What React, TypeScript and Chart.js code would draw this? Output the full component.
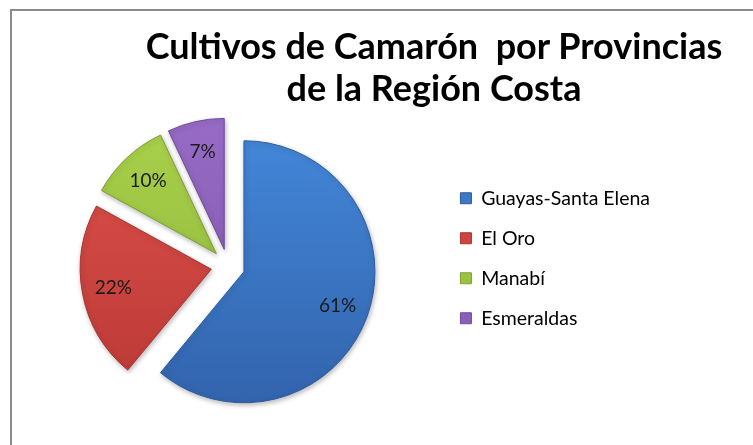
import React, { useEffect, useRef } from 'react';
import { Chart, registerables } from 'chart.js';

Chart.register(...registerables);

const categories = ['Guayas-Santa Elena', 'El Oro', 'Manabí', 'Esmeraldas'];
const values = [61, 22, 10, 7];
const percentLabels = ['61%', '22%', '10%', '7%'];
const titleLines = ['Cultivos de Camarón  por Provincias', 'de la Región Costa'];

const topColors = ['#4489db', '#e1524d', '#aad24b', '#976bc6'];
const bottomColors = ['#3262ab', '#b73733', '#8aae38', '#7a53a4'];
const midColors = ['#3b78c6', '#cf433f', '#9cc241', '#8a5fb6'];
const borderColors = ['#2e5b9e', '#a83330', '#7f9f33', '#6f4b96'];

const EXPLODE = 17;
const RADIUS = 131;
const FONT = 'Lato, "Open Sans", sans-serif';

const explodePlugin = {
  id: 'explodeSlices',
  afterDatasetUpdate(chart: any, args: any) {
    args.meta.data.forEach((el: any) => {
      const mid = (el.startAngle + el.endAngle) / 2;
      el.x += Math.cos(mid) * EXPLODE;
      el.y += Math.sin(mid) * EXPLODE;
    });
  },
  beforeDatasetDraw(chart: any) {
    const ctx = chart.ctx;
    ctx.save();
    ctx.shadowColor = 'rgba(0,0,0,0.28)';
    ctx.shadowBlur = 5;
    ctx.shadowOffsetX = 1;
    ctx.shadowOffsetY = 2;
  },
  afterDatasetDraw(chart: any) {
    chart.ctx.restore();
  },
  afterDatasetsDraw(chart: any) {
    const ctx = chart.ctx;
    const meta = chart.getDatasetMeta(0);
    ctx.save();
    ctx.font = `19px ${FONT}`;
    ctx.fillStyle = '#1a1a1a';
    ctx.textAlign = 'center';
    ctx.textBaseline = 'middle';
    meta.data.forEach((el: any, i: number) => {
      const mid = (el.startAngle + el.endAngle) / 2;
      const d = el.outerRadius * 0.76;
      ctx.fillText(percentLabels[i], el.x + Math.cos(mid) * d, el.y + Math.sin(mid) * d);
    });
    ctx.restore();
  },
};

export default function App() {
  const canvasRef = useRef<HTMLCanvasElement | null>(null);

  useEffect(() => {
    const canvas = canvasRef.current;
    if (!canvas) return;
    const chart = new Chart(canvas, {
      type: 'pie',
      data: {
        labels: categories,
        datasets: [
          {
            data: values,
            clip: false as any,
            backgroundColor: (c: any) => {
              const ch = c.chart;
              const area = ch.chartArea;
              const i = c.dataIndex ?? 0;
              if (!area) return midColors[i];
              const cy = (area.top + area.bottom) / 2;
              const g = ch.ctx.createLinearGradient(0, cy - RADIUS - EXPLODE, 0, cy + RADIUS + EXPLODE);
              g.addColorStop(0, topColors[i]);
              g.addColorStop(1, bottomColors[i]);
              return g;
            },
            borderColor: borderColors,
            borderWidth: 1,
          },
        ],
      },
      options: {
        responsive: false,
        animation: false,
        radius: RADIUS,
        layout: { padding: { left: 16, right: 93, top: 168, bottom: 81 } },
        plugins: {
          title: { display: false },
          tooltip: { enabled: false },
          legend: {
            position: 'right',
            align: 'start',
            labels: {
              boxWidth: 11,
              boxHeight: 11,
              padding: 20.5,
              color: '#1a1a1a',
              font: { family: FONT, size: 19.5 },
              generateLabels: () =>
                categories.map((name, i) => ({
                  text: name,
                  fillStyle: midColors[i],
                  strokeStyle: borderColors[i],
                  lineWidth: 1,
                  hidden: false,
                  index: i,
                })),
            },
          },
        },
      } as any,
      plugins: [explodePlugin],
    });
    return () => chart.destroy();
  }, []);

  return (
    <div style={{ position: 'absolute', left: 0, top: 0, width: 753, height: 445, overflow: 'hidden', background: '#fff' }}>
      <div
        style={{
          position: 'absolute',
          left: 10,
          top: 9,
          width: 900,
          height: 600,
          borderTop: '2px solid #8a8a8a',
          borderLeft: '2px solid #8a8a8a',
        }}
      />
      <canvas ref={canvasRef} width={753} height={445} style={{ position: 'absolute', left: 0, top: 0, display: 'block' }} />
      <div
        style={{
          position: 'absolute',
          left: 134,
          width: 600,
          top: 24,
          textAlign: 'center',
          fontFamily: FONT,
          fontWeight: 700,
          fontSize: 36,
          lineHeight: '42px',
          color: '#000',
          whiteSpace: 'pre',
        }}
      >
        {titleLines.map((t) => (
          <div key={t}>{t}</div>
        ))}
      </div>
    </div>
  );
}
